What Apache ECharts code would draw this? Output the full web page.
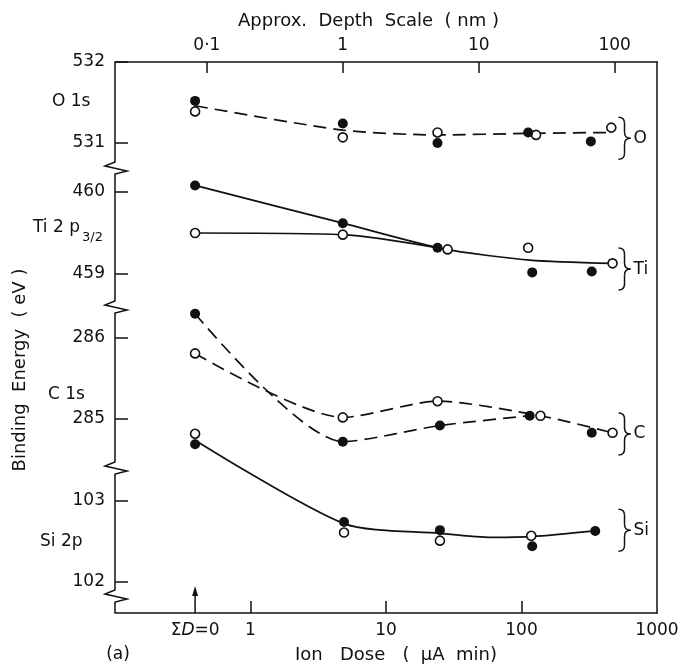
<!DOCTYPE html>
<html>
<head>
<meta charset="utf-8">
<script src="https://cdn.jsdelivr.net/npm/echarts@6/dist/echarts.min.js"></script>
<style>
  html, body { margin: 0; padding: 0; background: #fff; }
  #chart { width: 682px; height: 666px; }
</style>
</head>
<body>
<div id="chart"></div>
<script>
// Ion dose (µA min) of the unsputtered surface, plotted at the ΣD = 0 position
const zeroDose = 0.39;

// ---- O 1s ----
const oFilledDose = [zeroDose, 4.8, 24, 112, 325];
const oFilledBE   = [531.52, 531.24, 531.00, 531.13, 531.02];
const oOpenDose   = [zeroDose, 4.8, 24, 128, 460];
const oOpenBE     = [531.39, 531.07, 531.13, 531.10, 531.19];
const oCurveDose  = [zeroDose, 4.8, 24, 120, 460];
const oCurveBE    = [531.46, 531.16, 531.10, 531.12, 531.13];

// ---- Ti 2p3/2 ----
const tiFilledDose = [zeroDose, 4.8, 24, 120, 330];
const tiFilledBE   = [460.08, 459.62, 459.32, 459.02, 459.03];
const tiOpenDose   = [zeroDose, 4.8, 28.5, 112, 470];
const tiOpenBE     = [459.50, 459.48, 459.30, 459.32, 459.13];
const tiCurveADose = [zeroDose, 4.8, 26, 115, 470];
const tiCurveABE   = [460.08, 459.62, 459.31, 459.17, 459.13];
const tiCurveBDose = [zeroDose, 4.8, 26];
const tiCurveBBE   = [459.50, 459.48, 459.31];

// ---- C 1s ----
const cFilledDose = [zeroDose, 4.8, 25, 115, 330];
const cFilledBE   = [286.30, 284.72, 284.92, 285.04, 284.83];
const cOpenDose   = [zeroDose, 4.8, 24, 138, 470];
const cOpenBE     = [285.81, 285.02, 285.22, 285.04, 284.83];
const cCurveADose = [zeroDose, 4.8, 25, 115];
const cCurveABE   = [286.30, 284.72, 284.92, 285.04];
const cCurveBDose = [zeroDose, 4.8, 24, 138, 470];
const cCurveBBE   = [285.81, 285.02, 285.22, 285.04, 284.83];

// ---- Si 2p ----
const siFilledDose = [zeroDose, 4.9, 25, 120, 350];
const siFilledBE   = [103.70, 102.74, 102.64, 102.44, 102.63];
const siOpenDose   = [zeroDose, 4.9, 25, 118];
const siOpenBE     = [103.83, 102.61, 102.51, 102.57];
const siCurveDose  = [zeroDose, 4.9, 25, 60, 120, 350];
const siCurveBE    = [103.75, 102.72, 102.60, 102.55, 102.56, 102.63];

// Broken energy axis: value range and labelled ticks of each panel
const panelMin   = [530.741, 458.659, 284.457, 101.617];
const panelMax   = [532, 460.2195, 286.321, 103.333];
const panelTicks = [[531, 532], [459, 460], [285, 286], [102, 103]];
const panelNames = ['O', 'Ti', 'C', 'Si'];
const braceLevels = [531.06, 459.06, 284.815, 102.64];

// Dose and depth scales
const doseTicks  = [1, 10, 100, 1000];
const depthTicks = [0.1, 1, 10, 100];

// ---- layout (pixels) ----
const plotLeft = 115, plotRight = 657, plotTop = 62, plotBottom = 613;
const panelTop    = [62, 174, 312, 474];
const panelBottom = [164, 302, 463, 613];
const FONT = 'DejaVu Sans';
const INK = '#111';

const pairs = (xs, ys) => xs.map((x, i) => [x, ys[i]]);

const panels = [
  { curves: [[oCurveDose, oCurveBE]], dashed: true,
    filled: [oFilledDose, oFilledBE], open: [oOpenDose, oOpenBE] },
  { curves: [[tiCurveADose, tiCurveABE], [tiCurveBDose, tiCurveBBE]], dashed: false,
    filled: [tiFilledDose, tiFilledBE], open: [tiOpenDose, tiOpenBE] },
  { curves: [[cCurveADose, cCurveABE], [cCurveBDose, cCurveBBE]], dashed: true,
    filled: [cFilledDose, cFilledBE], open: [cOpenDose, cOpenBE] },
  { curves: [[siCurveDose, siCurveBE]], dashed: false,
    filled: [siFilledDose, siFilledBE], open: [siOpenDose, siOpenBE] }
];

const grids = [], xAxes = [], yAxes = [], series = [];

panels.forEach((p, k) => {
  grids.push({ left: plotLeft, width: plotRight - plotLeft,
               top: panelTop[k], height: panelBottom[k] - panelTop[k] });
  xAxes.push({ type: 'log', gridIndex: k, min: 0.1, max: 1000, show: false });
  yAxes.push({
    type: 'value', gridIndex: k, min: panelMin[k], max: panelMax[k],
    axisLine: { show: false },
    splitLine: { show: false },
    axisTick: { show: true, inside: true, length: 13, customValues: panelTicks[k],
                lineStyle: { color: INK, width: 1.5 } },
    axisLabel: { customValues: panelTicks[k], margin: 10, color: INK,
                 fontFamily: FONT, fontSize: 17, formatter: v => String(Math.round(v)) }
  });
  p.curves.forEach(([xs, ys]) => {
    series.push({
      type: 'line', xAxisIndex: k, yAxisIndex: k, data: pairs(xs, ys),
      smooth: 0.25, showSymbol: false, clip: false, silent: true, z: 2,
      lineStyle: { color: INK, width: 1.7, type: p.dashed ? [13, 7] : 'solid' }
    });
  });
  series.push({
    type: 'scatter', xAxisIndex: k, yAxisIndex: k, data: pairs(p.open[0], p.open[1]),
    symbol: 'circle', symbolSize: 9, clip: false, z: 3,
    itemStyle: { color: '#fff', borderColor: INK, borderWidth: 1.6, opacity: 1 }
  });
  series.push({
    type: 'scatter', xAxisIndex: k, yAxisIndex: k, data: pairs(p.filled[0], p.filled[1]),
    symbol: 'circle', symbolSize: 10, clip: false, z: 4,
    itemStyle: { color: INK, opacity: 1 }
  });
});

// Frame grid: bottom dose axis, top depth axis, right border
grids.push({ left: plotLeft, width: plotRight - plotLeft, top: plotTop, height: plotBottom - plotTop });
xAxes.push({
  type: 'log', gridIndex: 4, position: 'bottom', min: 0.1, max: 1000,
  axisLine: { show: true, lineStyle: { color: INK, width: 1.5 } },
  splitLine: { show: false },
  axisTick: { show: true, inside: true, length: 12, customValues: doseTicks.slice(0, 3),
              lineStyle: { color: INK, width: 1.5 } },
  axisLabel: {
    customValues: [zeroDose].concat(doseTicks), margin: 9, color: INK,
    fontFamily: FONT, fontSize: 17,
    formatter: v => Math.abs(v - zeroDose) < 1e-6 ? '{n|Σ}{i|D}{n|=0}' : String(Math.round(v)),
    rich: {
      n: { fontFamily: FONT, fontSize: 17, color: INK },
      i: { fontFamily: FONT, fontSize: 17, color: INK, fontStyle: 'italic' }
    }
  }
});
xAxes.push({
  type: 'log', gridIndex: 4, position: 'top', min: 0.0211, max: 205,
  axisLine: { show: true, lineStyle: { color: INK, width: 1.5 } },
  splitLine: { show: false },
  axisTick: { show: true, inside: true, length: 11, customValues: depthTicks,
              lineStyle: { color: INK, width: 1.5 } },
  axisLabel: { customValues: depthTicks, margin: 8, color: INK, fontFamily: FONT, fontSize: 17,
               formatter: v => v < 1 ? '0·1' : String(Math.round(v)) }
});
yAxes.push({
  type: 'value', gridIndex: 4, position: 'right', min: 0, max: 1,
  axisLine: { show: true, lineStyle: { color: INK, width: 1.5 } },
  axisTick: { show: false }, axisLabel: { show: false }, splitLine: { show: false }
});

const chart = echarts.init(document.getElementById('chart'), null, { renderer: 'canvas' });
chart.setOption({
  backgroundColor: '#fff',
  animation: false,
  grid: grids, xAxis: xAxes, yAxis: yAxes, series: series
});

// ---- decorations: broken left axis, arrow at ΣD = 0, braces and captions ----
const graphics = [];
const stroke = { stroke: INK, lineWidth: 1.5, fill: null };
const spine = [[plotLeft, plotTop]];
const zig = (yTop) => [
  [plotLeft, yTop], [plotLeft - 10, yTop + 4], [plotLeft + 12, yTop + 9], [plotLeft, yTop + 12]
];
[162, 301, 462, 590].forEach(y => spine.push(...zig(y)));
spine.push([plotLeft, plotBottom]);
graphics.push({ type: 'polyline', shape: { points: spine }, z: 10, style: stroke });

const ax = chart.convertToPixel({ xAxisIndex: 4 }, zeroDose);
graphics.push({ type: 'line', z: 10, shape: { x1: ax, y1: plotBottom, x2: ax, y2: plotBottom - 20 },
                style: { stroke: INK, lineWidth: 1.5 } });
graphics.push({ type: 'polygon', z: 10,
                shape: { points: [[ax, plotBottom - 27], [ax - 3, plotBottom - 17], [ax + 3, plotBottom - 17]] },
                style: { fill: INK } });

// Curly braces grouping each element's points, with the element symbol
panelNames.forEach((name, k) => {
  const cy = chart.convertToPixel({ yAxisIndex: k }, braceLevels[k]);
  const x0 = chart.convertToPixel({ xAxisIndex: k }, 520);
  const h = 21, xc = x0 + 6, xt = x0 + 12;
  const q = (x1, y1, cx, cyy, x2, y2) => ({ type: 'bezierCurve', z: 10, style: stroke,
    shape: { x1: x1, y1: y1, cpx1: cx, cpy1: cyy, x2: x2, y2: y2 } });
  const l = (x1, y1, x2, y2) => ({ type: 'line', z: 10, style: stroke,
    shape: { x1: x1, y1: y1, x2: x2, y2: y2 } });
  graphics.push(q(x0, cy - h, xc, cy - h, xc, cy - h + 6));
  graphics.push(l(xc, cy - h + 6, xc, cy - 6));
  graphics.push(q(xc, cy - 6, xc, cy, xt, cy));
  graphics.push(q(xt, cy, xc, cy, xc, cy + 6));
  graphics.push(l(xc, cy + 6, xc, cy + h - 6));
  graphics.push(q(xc, cy + h - 6, xc, cy + h, x0, cy + h));
  graphics.push({ type: 'text', z: 10, x: xt + 3, y: cy,
                  style: { text: name, font: `17px "${FONT}"`, fill: INK,
                           textAlign: 'left', textVerticalAlign: 'middle' } });
});

const txt = (text, x, y, extra) => ({
  type: 'text', z: 10, x: x, y: y,
  style: Object.assign({ text: text, font: `17px "${FONT}"`, fill: INK,
                         textAlign: 'center', textVerticalAlign: 'middle' }, extra || {})
});
const f18 = `18px "${FONT}"`;
graphics.push(txt('Approx.  Depth  Scale  ( nm )', 238, 21, { textAlign: 'left', font: f18 }));
graphics.push(txt('Ion   Dose   (  μA  min)', 295, 655, { textAlign: 'left', font: f18 }));
graphics.push(txt('(a)', 118, 655));
graphics.push(Object.assign(txt('Binding  Energy  ( eV )', 20, 370, { font: f18 }),
                            { rotation: Math.PI / 2 }));
graphics.push(txt('O 1s', 52, 102, { textAlign: 'left' }));
graphics.push(txt('C 1s', 48, 395, { textAlign: 'left' }));
graphics.push(txt('Si 2p', 40, 542, { textAlign: 'left' }));
graphics.push(txt('Ti 2 p', 33, 228, { textAlign: 'left' }));
graphics.push(txt('3/2', 82, 238, { textAlign: 'left', font: `13px "${FONT}"` }));

chart.setOption({ graphic: graphics });
</script>
</body>
</html>
